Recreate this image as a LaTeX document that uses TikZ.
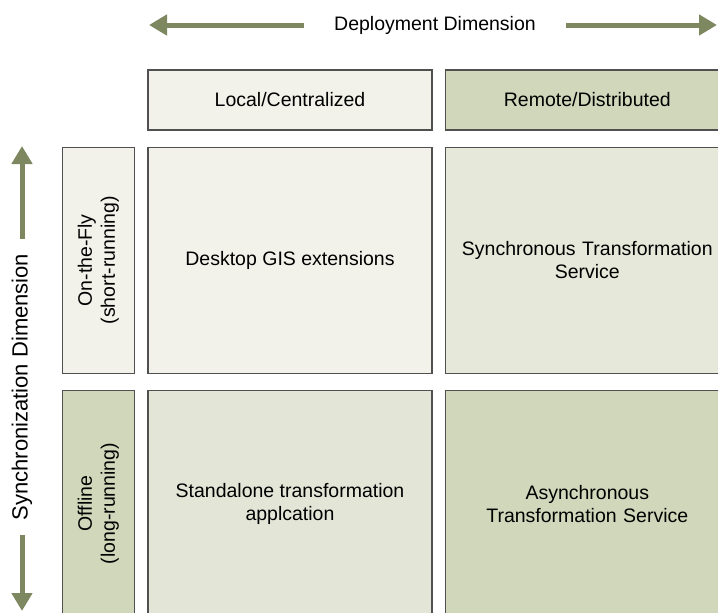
\documentclass[tikz,border=0pt]{standalone}
\usepackage{fontspec}
\setmainfont{Liberation Sans}
\usetikzlibrary{positioning,arrows.meta}

\definecolor{paleCell}{HTML}{F2F2EA}
\definecolor{midCell}{HTML}{E6E9DA}
\definecolor{lowCell}{HTML}{E3E6D6}
\definecolor{darkCell}{HTML}{D1D7BA}
\definecolor{cellBorder}{HTML}{505050}
\definecolor{dimGreen}{HTML}{7D8760}

\begin{document}
\begin{tikzpicture}[x=1pt, y=-1pt,
    cell/.style={draw=cellBorder, line width=1.3pt, minimum width=284pt, minimum height=226pt,
                 inner sep=2pt, align=center, font=\fontsize{19.5}{23}\selectfont},
    header/.style={cell, minimum height=60pt},
    sidebox/.style={cell, minimum width=72pt},
    dimarrow/.style={draw=dimGreen, line width=5pt, -{Triangle[length=18pt, width=20pt]}},
    dimlabel/.style={font=\fontsize{19.5}{23}\selectfont}]

    \useasboundingbox (0,0) rectangle (718,613);
    \clip (0,0) rectangle (718,613);

    % nodes

    %headers
    \node[header, fill=paleCell] (local) at (290,100) {Local/Centralized};
    \node[header, fill=darkCell, right=12pt of local] (remote) {Remote/Distributed};

    %cells
    \node[cell, fill=paleCell, below=16pt of local] (desktop) {Desktop GIS extensions};
    \node[cell, fill=midCell, right=12pt of desktop, text width=270pt] (sync_service) {Synchronous Transformation\\Service};
    \node[cell, fill=lowCell, below=16pt of desktop] (standalone) {Standalone transformation\\applcation};
    \node[cell, fill=darkCell, right=12pt of standalone, text width=270pt] (async_service) {Asynchronous\\Transformation Service};

    %rows
    \node[sidebox, fill=paleCell, left=12pt of desktop] (on_the_fly)
        {\rotatebox{90}{\begin{tabular}{@{}c@{}}On-the-Fly\\(short-running)\end{tabular}}};
    \node[sidebox, fill=darkCell, left=12pt of standalone] (offline)
        {\rotatebox{90}{\begin{tabular}{@{}c@{}}Offline\\(long-running)\end{tabular}}};

    %dimensions
    \node[dimlabel, inner xsep=30pt] (deploy_dim) at (435,25) {Deployment Dimension};
    \coordinate (deploy_left) at (149,25);
    \coordinate (deploy_right) at (717,25);

    \node[dimlabel, font=\fontsize{22}{26}\selectfont, rotate=90, inner xsep=15pt] (sync_dim) at (22,387) {Synchronization Dimension};
    \coordinate (sync_top) at (22,146);
    \coordinate (sync_bottom) at (22,611);

    % edges
    \draw[dimarrow] (deploy_dim.west) -- (deploy_left);
    \draw[dimarrow] (deploy_dim.east) -- (deploy_right);
    \draw[dimarrow] (sync_dim.east) -- (sync_top);
    \draw[dimarrow] (sync_dim.west) -- (sync_bottom);

\end{tikzpicture}
\end{document}
